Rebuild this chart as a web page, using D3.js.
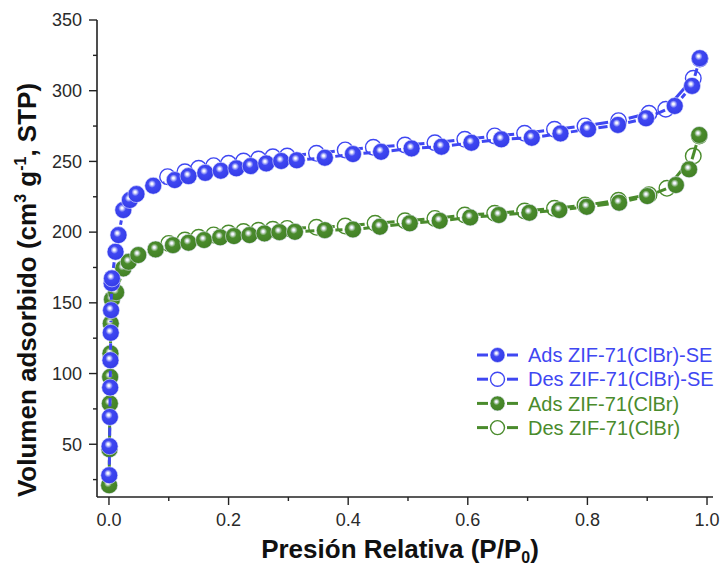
<!DOCTYPE html>
<html>
<head>
<meta charset="utf-8">
<script src="https://cdn.jsdelivr.net/npm/d3@7"></script>
<style>
    body { margin: 0; background: #fff; }
    svg { display: block; font-family: Arial, "Liberation Sans", sans-serif; }
</style>
</head>
<body>
<svg id="chart" width="723" height="565"></svg>
<script>
// [P/P0, volume] pairs
const adsSE = [
    [0.0005, 28.1], [0.001, 48.6], [0.0015, 69.3], [0.002, 90.1], [0.0025, 109.4],
    [0.003, 128.8], [0.0035, 144.8], [0.0045, 163.9], [0.005, 167.3], [0.011, 186.1],
    [0.016, 197.9], [0.024, 215.6], [0.035, 222.7], [0.046, 226.9], [0.074, 232.8],
    [0.11, 236.8], [0.133, 239.6], [0.161, 241.9], [0.187, 243.4], [0.213, 245.1],
    [0.237, 246.7], [0.263, 248.6], [0.288, 250.3], [0.314, 250.8], [0.361, 252.6],
    [0.408, 255.2], [0.455, 256.8], [0.506, 259.2], [0.556, 260.4], [0.606, 263.2],
    [0.656, 265.6], [0.707, 266.7], [0.755, 269.8], [0.801, 272.7], [0.851, 275.8],
    [0.898, 280.5], [0.946, 289.2], [0.975, 303.4], [0.988, 323.0]
];
const desSE = [
    [0.988, 322.5], [0.977, 308.8], [0.931, 286.9], [0.903, 284.0], [0.852, 278.8],
    [0.796, 275.1], [0.745, 272.7], [0.695, 269.9], [0.645, 268.0], [0.595, 265.6],
    [0.545, 263.2], [0.495, 261.6], [0.442, 260.0], [0.395, 258.1], [0.347, 255.7],
    [0.298, 253.8], [0.274, 253.3], [0.250, 251.7], [0.225, 250.3], [0.200, 248.7],
    [0.175, 247.0], [0.150, 245.1], [0.127, 242.7], [0.098, 239.2]
];
const ads = [
    [0.0003, 21.0], [0.0008, 46.5], [0.0015, 78.8], [0.002, 97.6], [0.0025, 114.2],
    [0.003, 135.4], [0.005, 152.5], [0.012, 157.5], [0.024, 174.3], [0.033, 179.0],
    [0.049, 183.8], [0.078, 187.8], [0.107, 190.8], [0.133, 192.5], [0.159, 194.4],
    [0.186, 196.3], [0.209, 197.2], [0.235, 197.9], [0.26, 199.1], [0.285, 200.0],
    [0.311, 200.2], [0.361, 201.4], [0.408, 201.9], [0.453, 203.8], [0.503, 206.2],
    [0.553, 208.0], [0.604, 210.4], [0.652, 212.1], [0.703, 213.7], [0.753, 215.6],
    [0.799, 217.9], [0.853, 220.8], [0.90, 225.5], [0.948, 233.3], [0.97, 244.4],
    [0.987, 268.7]
];
const des = [
    [0.987, 268.0], [0.977, 253.8], [0.933, 231.0], [0.903, 226.5], [0.852, 222.5],
    [0.796, 219.1], [0.745, 216.8], [0.695, 214.9], [0.645, 213.3], [0.595, 212.1],
    [0.545, 209.7], [0.495, 208.0], [0.445, 206.2], [0.395, 204.3], [0.347, 203.4],
    [0.298, 202.6], [0.274, 202.0], [0.250, 201.3], [0.225, 200.4], [0.200, 199.3],
    [0.175, 198.0], [0.150, 196.3], [0.127, 194.4], [0.100, 192.0]
];

const seriesNames = ["Ads ZIF-71(ClBr)-SE", "Des ZIF-71(ClBr)-SE", "Ads ZIF-71(ClBr)", "Des ZIF-71(ClBr)"];
const xTicks = [0, 0.2, 0.4, 0.6, 0.8, 1.0];
const yTicks = [50, 100, 150, 200, 250, 300, 350];

const BLUE = "#3f47f2";
const GREEN = "#4a8b2c";

const series = [
    { name: seriesNames[0], data: adsSE, color: BLUE, filled: true, grad: "gBlue" },
    { name: seriesNames[1], data: desSE, color: BLUE, filled: false },
    { name: seriesNames[2], data: ads, color: GREEN, filled: true, grad: "gGreen" },
    { name: seriesNames[3], data: des, color: GREEN, filled: false }
];

const svg = d3.select("#chart");

const x = d3.scaleLinear().domain([-0.02, 1.01]).range([97, 713]);
const y = d3.scaleLinear().domain([12.7, 350]).range([497, 20]);

// sphere gradients
const defs = svg.append("defs");
function sphere(id, base, dark) {
    const g = defs.append("radialGradient")
        .attr("id", id)
        .attr("cx", "45%").attr("cy", "42%").attr("r", "60%")
        .attr("fx", "42%").attr("fy", "38%");
    g.append("stop").attr("offset", "0%").attr("stop-color", "#ffffff");
    g.append("stop").attr("offset", "10%").attr("stop-color", "#f0f2ff");
    g.append("stop").attr("offset", "38%").attr("stop-color", base);
    g.append("stop").attr("offset", "100%").attr("stop-color", dark);
}
sphere("gBlue", BLUE, "#333be6");
sphere("gGreen", GREEN, "#417f25");

// axes
const axisColor = "#222";
const tickFont = 18;

const xAxis = svg.append("g").attr("transform", "translate(0,497)");
xAxis.append("line").attr("x1", 97).attr("x2", 713).attr("stroke", axisColor).attr("stroke-width", 1.6);
xAxis.selectAll(".minor").data(d3.range(0.1, 1.0, 0.2))
    .join("line")
    .attr("x1", d => x(d)).attr("x2", d => x(d))
    .attr("y1", 0).attr("y2", 4)
    .attr("stroke", axisColor).attr("stroke-width", 1.4);
xAxis.selectAll(".major").data(xTicks)
    .join("line")
    .attr("x1", d => x(d)).attr("x2", d => x(d))
    .attr("y1", 0).attr("y2", 8)
    .attr("stroke", axisColor).attr("stroke-width", 1.4);
xAxis.selectAll("text").data(xTicks)
    .join("text")
    .attr("x", d => x(d)).attr("y", 29)
    .attr("text-anchor", "middle")
    .attr("font-size", tickFont)
    .attr("fill", "#2a2a2a")
    .text(d => d3.format(".1f")(d));

const yAxis = svg.append("g").attr("transform", "translate(97,0)");
yAxis.append("line").attr("y1", 20).attr("y2", 497).attr("stroke", axisColor).attr("stroke-width", 1.6);
yAxis.selectAll(".minor").data(d3.range(25, 350, 50))
    .join("line")
    .attr("y1", d => y(d)).attr("y2", d => y(d))
    .attr("x1", 0).attr("x2", -4)
    .attr("stroke", axisColor).attr("stroke-width", 1.4);
yAxis.selectAll(".major").data(yTicks)
    .join("line")
    .attr("y1", d => y(d)).attr("y2", d => y(d))
    .attr("x1", 0).attr("x2", -8)
    .attr("stroke", axisColor).attr("stroke-width", 1.4);
yAxis.selectAll("text").data(yTicks)
    .join("text")
    .attr("x", -15).attr("y", d => y(d))
    .attr("dy", "0.35em")
    .attr("text-anchor", "end")
    .attr("font-size", tickFont)
    .attr("fill", "#2a2a2a")
    .text(d => d);

// axis titles
const xTitle = svg.append("text")
    .attr("x", 400).attr("y", 558)
    .attr("text-anchor", "middle")
    .attr("font-size", 26).attr("font-weight", "bold").attr("fill", "#111");
xTitle.append("tspan").text("Presión Relativa (P/P");
xTitle.append("tspan").attr("font-size", 16).attr("dy", 5).text("0");
xTitle.append("tspan").attr("dy", -5).text(")");

const yTitle = svg.append("text")
    .attr("transform", "translate(36,290) rotate(-90)")
    .attr("text-anchor", "middle")
    .attr("font-size", 26).attr("font-weight", "bold").attr("fill", "#111");
yTitle.append("tspan").text("Volumen adsorbido (cm");
yTitle.append("tspan").attr("font-size", 16).attr("dy", -10).text("3");
yTitle.append("tspan").attr("dy", 10).text(" g");
yTitle.append("tspan").attr("font-size", 16).attr("dy", -10).text("-1");
yTitle.append("tspan").attr("dy", 10).text(", STP)");

// line segments with a gap around each symbol
const R = 8.5;
const GAP = 2;
function gapSegments(pts, r, gap) {
    const segs = [];
    for (let i = 1; i < pts.length; i++) {
        const [x1, y1] = pts[i - 1];
        const [x2, y2] = pts[i];
        const dx = x2 - x1, dy = y2 - y1;
        const d = Math.hypot(dx, dy);
        const cut = r + gap;
        if (d <= 2 * cut) continue;
        const ux = dx / d, uy = dy / d;
        segs.push([x1 + ux * cut, y1 + uy * cut, x2 - ux * cut, y2 - uy * cut]);
    }
    return segs;
}

function drawSeries(s) {
    const g = svg.append("g");
    const pts = s.data.map(d => [x(d[0]), y(d[1])]);
    g.selectAll("line").data(gapSegments(pts, R, GAP))
        .join("line")
        .attr("x1", d => d[0]).attr("y1", d => d[1])
        .attr("x2", d => d[2]).attr("y2", d => d[3])
        .attr("stroke", s.color).attr("stroke-width", 3);
    g.selectAll("circle").data(s.data)
        .join("circle")
        .attr("cx", d => x(d[0])).attr("cy", d => y(d[1]))
        .attr("r", s.filled ? R : R - 0.7)
        .attr("fill", s.filled ? `url(#${s.grad})` : "#fff")
        .attr("stroke", s.filled ? "#e8eaff" : s.color)
        .attr("stroke-width", s.filled ? 0.6 : 1.4);
}

// green behind blue, desorption behind adsorption
[series[3], series[2], series[1], series[0]].forEach(drawSeries);

// legend
const legend = svg.append("g");
series.forEach((s, i) => {
    const ly = 355 + i * 24.2;
    const row = legend.append("g");
    row.append("line").attr("x1", 477).attr("x2", 488).attr("y1", ly).attr("y2", ly)
        .attr("stroke", s.color).attr("stroke-width", 3);
    row.append("line").attr("x1", 507).attr("x2", 518).attr("y1", ly).attr("y2", ly)
        .attr("stroke", s.color).attr("stroke-width", 3);
    row.append("circle").attr("cx", 497.5).attr("cy", ly)
        .attr("r", s.filled ? 7.5 : 7)
        .attr("fill", s.filled ? `url(#${s.grad})` : "#fff")
        .attr("stroke", s.filled ? "#e8eaff" : s.color)
        .attr("stroke-width", s.filled ? 0.6 : 1.4);
    row.append("text")
        .attr("x", 528).attr("y", ly).attr("dy", "0.36em")
        .attr("font-size", 20)
        .attr("fill", s.color)
        .text(s.name);
});
</script>
</body>
</html>
